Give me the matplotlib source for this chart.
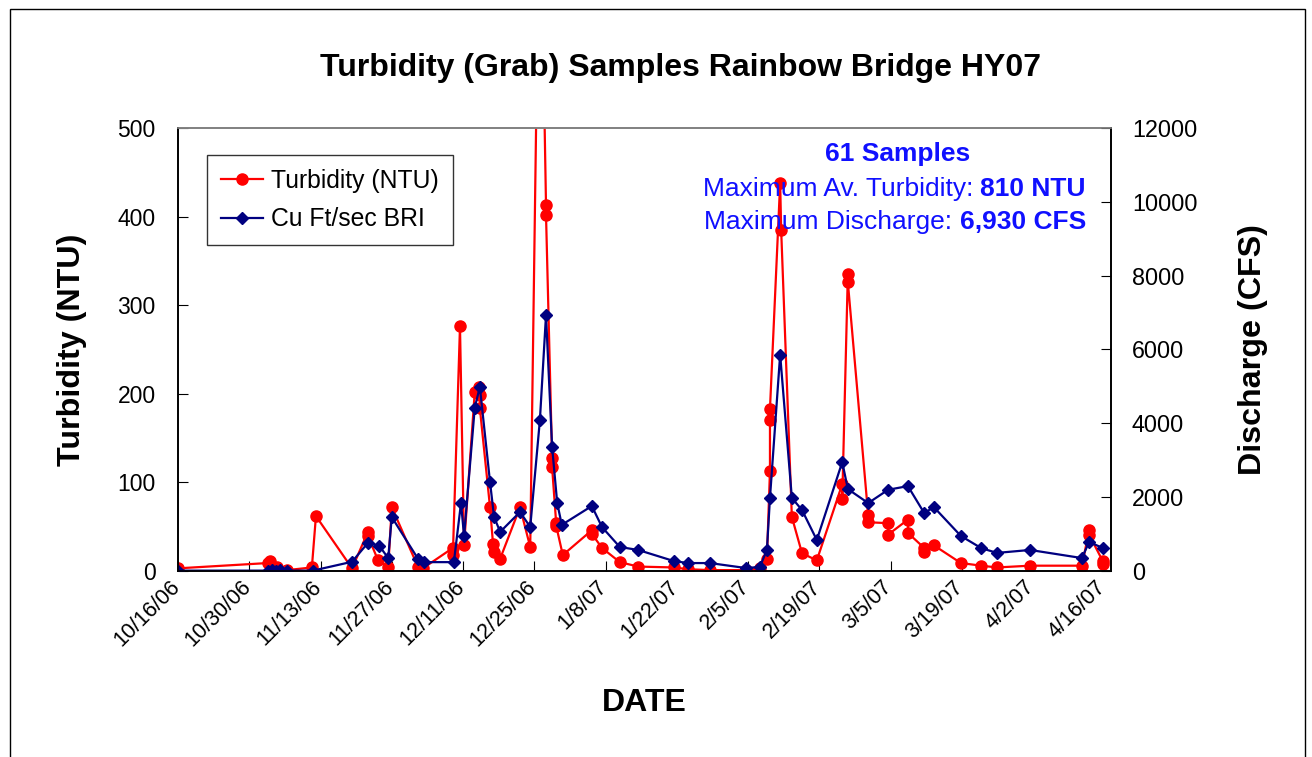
import numpy as np
import pandas as pd
import matplotlib
matplotlib.use("Agg")
import matplotlib.pyplot as plt
from matplotlib.ticker import FuncFormatter, MultipleLocator
from matplotlib.patches import Rectangle
import matplotlib.dates as mdates
import matplotlib.transforms as mtransforms

plt.rcParams['font.family'] = ['Liberation Sans', 'DejaVu Sans']

# Data (days after 10/16/06)
START = pd.Timestamp('2006-10-16')

turb_days = [0, 17.7, 18.1, 18.7, 19.5, 21.4, 26.3, 27.1, 34.2, 37.3, 37.3, 39.3, 41.3, 42.0,
             47.2, 48.1, 54.0, 54.0, 55.4, 56.2, 58.3, 59.1, 59.3, 59.3, 61.3, 61.9, 62.1, 63.3,
             67.2, 69.2, 71.1, 72.3, 72.3, 73.5, 73.5, 74.3, 74.3, 75.6, 81.3, 81.3, 83.3, 86.8,
             90.4, 97.4, 100.2, 104.5, 111.6, 114.3, 115.7, 116.3, 116.3, 116.3, 118.3, 118.5,
             120.6, 122.6, 125.5, 130.5, 130.5, 131.6, 131.6, 135.6, 135.6, 139.5, 139.5, 143.4,
             143.4, 146.6, 146.6, 148.5, 153.8, 157.8, 160.9, 167.4, 177.6, 179.0, 179.0, 181.7, 181.7]
turb_ntu = [3, 9, 11, 5, 4, 1, 4, 62, 3, 44, 40, 12, 4, 72,
            4, 3, 26, 18, 276, 29, 202, 208, 199, 184, 72, 30, 22, 14,
            72, 27, 810, 413, 402, 127, 117, 54, 51, 18, 46, 42, 26, 10,
            5, 4, 2, 1, 1, 3, 14, 113, 170, 183, 438, 385,
            61, 20, 12, 98, 81, 335, 326, 63, 55, 54, 41, 58,
            43, 26, 22, 29, 9, 6, 4, 6, 6, 46, 41, 11, 8]

flow_days = [0, 17.7, 18.5, 19.3, 20.0, 21.4, 26.5, 34.2, 37.3, 39.5, 41.3, 42.0, 47.2, 48.3,
             54.2, 55.6, 56.2, 58.3, 59.3, 61.3, 62.1, 63.3, 67.2, 69.2, 71.1, 72.3, 73.5,
             74.5, 75.4, 81.3, 83.3, 86.8, 90.4, 97.4, 100.2, 104.5, 111.6, 114.3, 115.7,
             116.3, 118.3, 120.6, 122.6, 125.5, 130.5, 131.6, 135.6, 139.5, 143.4, 146.6,
             148.5, 153.8, 157.8, 160.9, 167.4, 177.6, 179.0, 181.7]
flow_cfs = [10, 10, 20, 10, 15, 10, 10, 250, 760, 690, 350, 1460, 320, 240,
            240, 1840, 950, 4420, 4990, 2410, 1460, 1060, 1600, 1190, 4090, 6930, 3360,
            1840, 1250, 1760, 1190, 650, 570, 270, 215, 215, 80, 110, 570,
            1980, 5860, 1980, 1650, 840, 2950, 2220, 1840, 2200, 2300, 1570,
            1730, 950, 620, 490, 570, 350, 790, 620]

tick_dates = pd.date_range('2006-10-16', '2007-04-16', freq='14D')

turb_t = START + pd.to_timedelta(turb_days, unit='D')
flow_t = START + pd.to_timedelta(flow_days, unit='D')

fig = plt.figure(figsize=(13.12, 7.57), dpi=100)
ax = fig.add_axes([178/1312, 1 - 571/757, (1111 - 178)/1312, (571 - 128)/757])
ax2 = ax.twinx()

red = '#FF0000'
navy = '#000080'
blue_txt = '#1010FF'

l1, = ax.plot(turb_t, turb_ntu, '-o', color=red, lw=1.6, ms=8, label='Turbidity (NTU)')
l2, = ax2.plot(flow_t, flow_cfs, '-D', color=navy, lw=1.6, ms=6.5, label='Cu Ft/sec BRI')

ax.set_xlim(START, START + pd.Timedelta(days=183.3))
ax.set_ylim(0, 500)
ax2.set_ylim(0, 12000)
ax.yaxis.set_major_locator(MultipleLocator(100))
ax2.yaxis.set_major_locator(MultipleLocator(2000))

ax.set_xticks(tick_dates)
ax.xaxis.set_major_formatter(FuncFormatter(
    lambda v, p: (lambda d: f"{d.month}/{d.day}/{d.strftime('%y')}")(mdates.num2date(v))))

ax.tick_params(axis='both', direction='in', length=7, labelsize=16.5, pad=16)
ax.tick_params(axis='x', labelsize=15.5, pad=4)
ax2.tick_params(axis='y', direction='in', length=7, labelsize=16.8, pad=15)

shift = mtransforms.ScaledTranslation(-9/100, 0, fig.dpi_scale_trans)
for lab in ax.get_xticklabels():
    lab.set_rotation(45)
    lab.set_ha('right')
    lab.set_rotation_mode('anchor')
    lab.set_transform(lab.get_transform() + shift)

for a in (ax, ax2):
    a.spines['top'].set_color('#808080')
    a.spines['left'].set_color('#000000')
    a.spines['bottom'].set_color('#000000')
    a.spines['right'].set_color('#000000')
    for s in a.spines.values():
        s.set_linewidth(1.2)

ax.set_xlabel('DATE', fontsize=23, fontweight='bold', labelpad=27)
ax.set_ylabel('Turbidity (NTU)', fontsize=23.2, fontweight='bold', labelpad=22)
ax2.set_ylabel('Discharge (CFS)', fontsize=23.2, fontweight='bold', labelpad=29)

fig.text(681/1312, 1 - 68/757, 'Turbidity (Grab) Samples Rainbow Bridge HY07',
         fontsize=23, fontweight='bold', ha='center', va='center')

leg = ax2.legend(handles=[l1, l2], loc='upper left', bbox_to_anchor=(0.031, 0.939),
                 fontsize=17.8, frameon=True, fancybox=False, edgecolor='black',
                 handlelength=1.7, handletextpad=0.35, borderpad=0.55,
                 labelspacing=0.6, borderaxespad=0)
leg.get_frame().set_linewidth(1.0)

# annotation block
fs_note = 19
ax2.text(0.771, 0.942, '61 Samples', transform=ax2.transAxes, color=blue_txt,
         fontsize=fs_note, fontweight='bold', ha='center', va='center')
b1 = ax2.text(0.973, 0.862, '810 NTU', transform=ax2.transAxes, color=blue_txt,
              fontsize=fs_note, fontweight='bold', ha='right', va='center')
ax2.annotate('Maximum Av. Turbidity: ', xy=(0, 0.5), xycoords=b1, color=blue_txt,
             fontsize=fs_note, ha='right', va='center')
b2 = ax2.text(0.973, 0.787, '6,930 CFS', transform=ax2.transAxes, color=blue_txt,
              fontsize=fs_note, fontweight='bold', ha='right', va='center')
ax2.annotate('Maximum Discharge: ', xy=(0, 0.5), xycoords=b2, color=blue_txt,
             fontsize=fs_note, ha='right', va='center')

# chart area border
fig.patches.append(Rectangle((10/1312, -0.05), (1305 - 10)/1312, 1.05 - 9/757,
                             transform=fig.transFigure, fill=False, edgecolor='black', lw=1.0))

fig.savefig('out.png', dpi=100)
